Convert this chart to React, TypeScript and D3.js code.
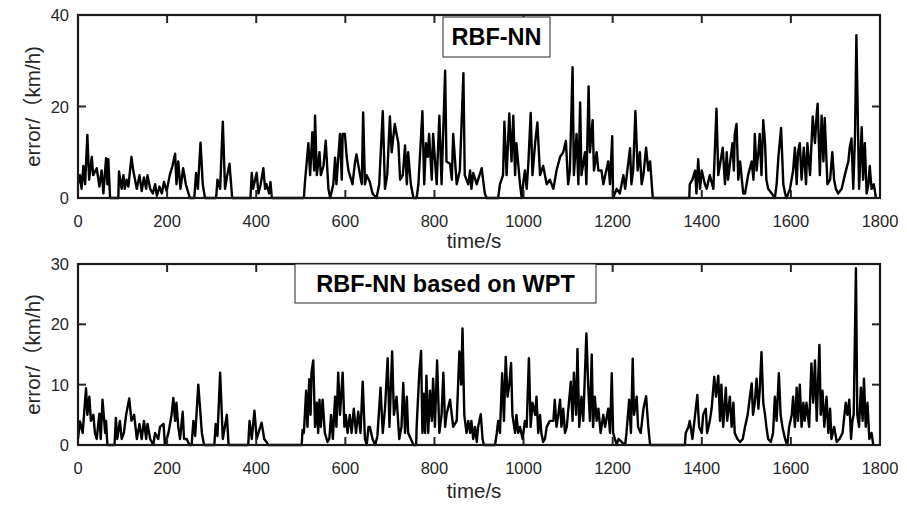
import React from "react";
import * as d3 from "d3";

// Top panel: RBF-NN error (time s, error km/h)
const topTime = [0,4.5,8,12,16,21,25,31,34,42,48,53,57,63,66,68,72,90.5,92,98,102,105,109,113,120,124,128,132,138,143,148,153,156,162,168,173,177,183,188,193,199,206,212,218,221,225,230,236,242,248,251,261,265,269,275,280,285,310,313,319,325,330,335,340,346,387,390,393,401,405,410,416,420,423,429,432,435,507,509,517,521,526,530,532,536,542,545,551,556,562,566,573,577,580,588,592,594,599,603,607,610,616,622,625,633,637,640,644,648,655,661,670,676,684,689,694,700,704,711,715,719,723,729,734,738,741,747,753,760,764,773,777,781,785,788,794,797,805,811,816,824,827,835,839,842,850,857,865,868,876,880,883,887,895,898,906,913,917,943,947,954,957,962,968,973,977,981,984,992,996,999,1003,1007,1011,1016,1020,1026,1031,1037,1044,1052,1059,1067,1074,1082,1089,1095,1100,1104,1110,1113,1119,1123,1127,1130,1138,1141,1146,1149,1155,1158,1164,1168,1175,1179,1190,1194,1199,1201,1209,1216,1224,1228,1239,1242,1246,1251,1256,1261,1265,1269,1275,1280,1284,1290,1372,1373,1379,1385,1388,1392,1396,1400,1407,1411,1418,1426,1433,1437,1442,1447,1452,1456,1459,1465,1469,1472,1474,1478,1482,1486,1493,1497,1504,1512,1516,1519,1523,1527,1530,1534,1538,1542,1545,1549,1557,1564,1568,1572,1578,1583,1587,1590,1598,1605,1609,1613,1616,1620,1624,1629,1634,1637,1643,1649,1654,1658,1660,1665,1669,1673,1676,1682,1688,1693,1697,1701,1706,1714,1721,1729,1732,1736,1740,1744,1747,1753,1759,1762,1766,1770,1774,1777,1781,1786,1791];
const topError = [3,5,2,7,3,13.8,4,9,5,6.5,2.5,6,1,8.7,3,8.5,0,0,5.8,2,5,2,4,2.5,9,6,4,2,5,1.5,4.5,2,5,2,1,3,0.5,2.5,1,3.5,1.5,5,7,9.7,3,8,2,6.5,3,1,0,0,5.5,2,12.1,3,0,0,4,2,16.7,2,5,7.5,0,0,5.5,2,5.5,1,3,6.5,2,3,1,3.5,0,0,3,12,5,14.4,6,18,5,10,5,7,12.5,2,0,3,8.8,3,14,4,14,14,9,6,5,3,8,9.5,5,3,18.7,3,5,3.5,1,0,3,19,2,5,17.8,10,16.2,14,12,4,5,11.5,3,10,3,0,0,3,19,3,12,9,14,4,14,3,18,3,27.8,8,7.5,4,14,3,6,27.3,5,3,6,2,5.5,3,4,6.5,1,0,0,3,5,16.7,5,18.5,8,18,5,12,3,0,3,6,2,8,18.6,5,12,16.5,5,7,3,4,2,6,9,10,12.5,3,6,28.6,5,14,3,20.9,5,10,3,24.4,10,17,6,10,6,6,3,8,3,13.5,0,2,1,5,2,10.9,3,6,19,6,10,3,5,11,6,8,0,0,3,4,6,1,8.5,2,6,3,2,5,2,19.5,5,8,11,3,10,4,9,12,6,14,16.2,4,8,1,1,5,8,4,14,6,10,14,5,17,12,4,2,1,0,3,9,15.3,3,1,0,2,6,11,3,10,12,4,11,3,12,5,17.8,12,18.5,20.6,5,18,8,17.5,3,4,10,4,2,1,2,5,8,11,13,2,14,35.6,2,15.5,4,12,1,3,7,2,3,0];

// Bottom panel: RBF-NN based on WPT error
const botTime = [0,4.5,10.5,13.5,18,21,25.5,29,34.5,38,42,48,51,55,61,63,66,82,85,88,94,98,103,108,115,120,126,132,138,143,148,153,156,162,169,173,180,184,192,195,203,210,214,218,221,225,229,235,238,244,250,255,259,263,270,278,283,306,309,313,319,325,334,338,382,385,390,396,401,405,412,418,423,427,502,504,507,512,515,519,522,524,528,532,536,539,542,545,549,554,560,564,568,572,577,580,584,588,594,598,601,605,610,614,619,624,629,634,639,644,648,652,655,661,667,672,679,684,689,695,699,705,709,715,721,726,730,734,738,741,747,753,759,760,766,770,773,776,779,782,786,790,794,797,801,806,811,816,820,824,827,835,839,842,850,856,860,863,867,872,876,880,883,887,891,895,898,904,908,911,936,940,943,947,952,956,960,964,968,972,975,981,984,988,992,998,1003,1007,1012,1016,1020,1026,1029,1033,1037,1040,1044,1048,1052,1059,1067,1070,1074,1078,1082,1085,1089,1093,1097,1103,1106,1110,1113,1118,1121,1125,1130,1134,1141,1145,1149,1153,1156,1160,1164,1168,1173,1179,1183,1190,1194,1198,1201,1205,1209,1213,1220,1228,1231,1237,1241,1245,1248,1254,1257,1263,1269,1275,1280,1284,1362,1364,1370,1373,1379,1385,1390,1394,1400,1403,1409,1412,1418,1422,1428,1432,1437,1441,1444,1448,1454,1457,1463,1467,1471,1474,1480,1486,1492,1497,1503,1508,1512,1515,1519,1523,1527,1530,1534,1538,1542,1545,1549,1555,1560,1564,1568,1573,1577,1581,1587,1592,1596,1602,1605,1609,1613,1616,1620,1624,1628,1631,1635,1641,1646,1650,1654,1658,1664,1667,1671,1675,1680,1684,1688,1691,1697,1703,1709,1716,1723,1727,1731,1735,1738,1741,1746,1749,1753,1757,1761,1764,1768,1772,1776,1781,1785];
const botError = [1,3.9,2,5,9.4,5,8,4,5,2,1,5.2,1,7.5,2,4,0,0,4.5,1,4,1,2,5,7.7,4,5,1,3.5,1,4,1,3.5,1,0,2,1,3,3.5,0,2,5,7.8,4,7,3,1,5.5,1,1,0,0,4,1.5,10,2,0,0,3.5,1.5,12,1,5,0,0,4,1,5.7,1,2,3.7,1,0.5,0,0,2.5,2,9,3,10.9,5,12,14,3,7,2,7.5,3,7.5,2,0.5,1,5,1,8,3,12,5,12,3,5,2,5,2,6,2,5.5,2,10.5,1,0,3,3,1,0,1.5,9.5,2,6,14.4,3,15.5,5,8,1,3,10.3,2,8,2,1,0,0,3,12,15.6,2,8.5,2,11.5,2,9,4,11,3,14,2,5,12,3,5,7.5,5,3,4,15.5,10,19.3,5,2,4,2,4,1,3,0.5,3,5.1,1,0,0,2,4,2,11.9,4,14.6,8,10,13.6,5,2,5,2,3,1,4,3,14.4,3,7,5,8,2,5,2,0.5,1,3,4,4,7.5,3,5,7.5,3,6,2,3,8,10.5,4,12,5,15.9,3,8,4,18.5,10,4,15,3,8,4,6,2,5,3,6,2,11.9,2,1,0,1,0.5,0,2,7.5,2,14.3,5,8,3,2,6,8.1,3,0,0,2,3,4,1,5,8.3,3,2,5,6,2,4,6,11.3,8,11.5,4,10,3,9.5,4,8,3,7,2,1,0.5,1,3,5,8,10.2,5,7,11,6,9,15.4,7,5,3,1,0.5,2,8,4,11.9,5,3,1,0,3,5,8,3,9.5,4,10,3,7,4,7,3,13.5,7,14,4,16.6,5,9,3,8,2,6,1,3,0.5,1,2,7,5,7.5,1,4,5,29.3,5,3,9.5,4,11,3,7,1,2,0];

const xTicks = [0, 200, 400, 600, 800, 1000, 1200, 1400, 1600, 1800];
const topYTicks = [0, 20, 40];
const botYTicks = [0, 10, 20, 30];

const topTitle = "RBF-NN";
const botTitle = "RBF-NN based on WPT";
const yLabel = "error/（km/h)";
const xLabel = "time/s";

const FONT = "'Liberation Sans', Arial, 'Noto Sans CJK SC', sans-serif";
const TXT = "#262626";

interface PanelProps {
  time: number[];
  values: number[];
  yMax: number;
  yTicks: number[];
  top: number;
  bottom: number;
  title: string;
  titleBox: { x0: number; x1: number; y0: number; y1: number };
  xLabelY: number;
}

const LEFT = 78;
const RIGHT = 880;
const TICK = 8;

function Panel({ time, values, yMax, yTicks, top, bottom, title, titleBox, xLabelY }: PanelProps) {
  const x = d3.scaleLinear().domain([0, 1800]).range([LEFT, RIGHT]);
  const y = d3.scaleLinear().domain([0, yMax]).range([bottom, top]);
  const pts = time.map((t, i) => [t, values[i]] as [number, number]);
  const line = d3
    .line<[number, number]>()
    .x((d) => x(d[0]))
    .y((d) => y(d[1]));
  return (
    <g>
      <path d={line(pts) || ""} fill="none" stroke="#000" strokeWidth={2.4} strokeLinejoin="round" />
      {xTicks.map((t) => (
        <g key={"xt" + t}>
          <line x1={x(t)} x2={x(t)} y1={bottom} y2={bottom - TICK} stroke="#262626" strokeWidth={2} />
          <line x1={x(t)} x2={x(t)} y1={top} y2={top + TICK} stroke="#262626" strokeWidth={2} />
          <text x={x(t)} y={bottom + 28.5} textAnchor="middle" fontFamily={FONT} fontSize={16.5} fill={TXT}>
            {t}
          </text>
        </g>
      ))}
      {yTicks.map((v) => (
        <g key={"yt" + v}>
          <line x1={LEFT} x2={LEFT + TICK} y1={y(v)} y2={y(v)} stroke="#262626" strokeWidth={2} />
          <line x1={RIGHT} x2={RIGHT - TICK} y1={y(v)} y2={y(v)} stroke="#262626" strokeWidth={2} />
          <text x={69} y={y(v) + 6} textAnchor="end" fontFamily={FONT} fontSize={16.5} fill={TXT}>
            {v}
          </text>
        </g>
      ))}
      <rect x={LEFT} y={top} width={RIGHT - LEFT} height={bottom - top} fill="none" stroke="#1a1a1a" strokeWidth={2.2} />
      <rect
        x={titleBox.x0}
        y={titleBox.y0}
        width={titleBox.x1 - titleBox.x0}
        height={titleBox.y1 - titleBox.y0}
        fill="#fff"
        stroke="#262626"
        strokeWidth={1}
      />
      <text
        x={(titleBox.x0 + titleBox.x1) / 2}
        y={(titleBox.y0 + titleBox.y1) / 2 + 8}
        textAnchor="middle"
        fontFamily={FONT}
        fontWeight="bold"
        fontSize={23.5}
        fill="#000"
      >
        {title}
      </text>
      <text
        transform={`translate(40,${(top + bottom) / 2}) rotate(-90)`}
        textAnchor="middle"
        fontFamily={FONT}
        fontSize={20.5}
        fill={TXT}
      >
        {yLabel}
      </text>
      <text x={474} y={xLabelY} textAnchor="middle" fontFamily={FONT} fontSize={20.5} fill={TXT}>
        {xLabel}
      </text>
    </g>
  );
}

export default function App() {
  return (
    <svg width={907} height={511} style={{ position: "absolute", left: 0, top: 0, background: "#fff" }}>
      <rect width={907} height={511} fill="#fff" />
      <Panel
        time={topTime}
        values={topError}
        yMax={40}
        yTicks={topYTicks}
        top={15}
        bottom={198}
        title={topTitle}
        titleBox={{ x0: 443, x1: 550, y0: 17, y1: 57 }}
        xLabelY={248}
      />
      <Panel
        time={botTime}
        values={botError}
        yMax={30}
        yTicks={botYTicks}
        top={264}
        bottom={445}
        title={botTitle}
        titleBox={{ x0: 295, x1: 596, y0: 264, y1: 303 }}
        xLabelY={498}
      />
    </svg>
  );
}
